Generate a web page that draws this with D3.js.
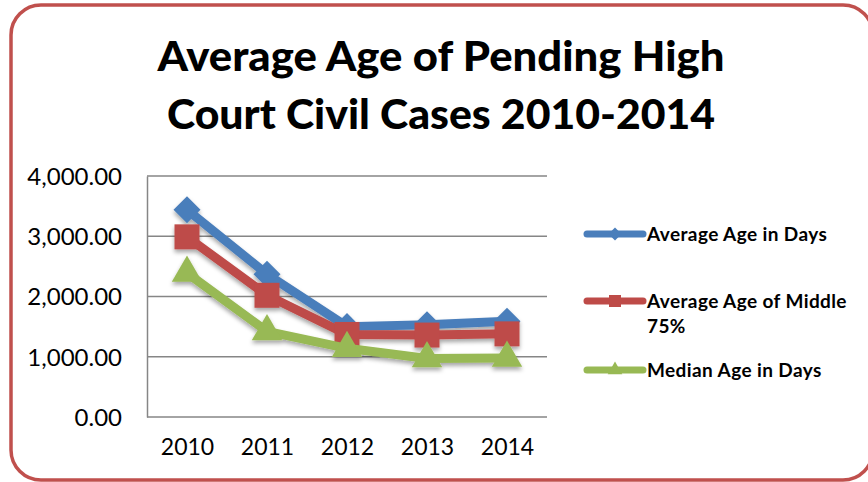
<!DOCTYPE html>
<html>
<head>
<meta charset="utf-8">
<script src="https://cdn.jsdelivr.net/npm/d3@7"></script>
<style>
  body { margin: 0; background: #fff; }
  svg { display: block; font-family: Lato, "Open Sans", sans-serif; }
</style>
</head>
<body>
<div class="chart"></div>
<script>
// data
var years = ["2010", "2011", "2012", "2013", "2014"];
var avgAge = [3440, 2370, 1500, 1530, 1590];
var avgMiddle = [2990, 2020, 1370, 1360, 1380];
var medianAge = [2390, 1420, 1140, 970, 980];
var yTicks = [0, 1000, 2000, 3000, 4000];
var titleLines = ["Average Age of Pending High", "Court Civil Cases 2010-2014"];

var series = [
  {name: "Average Age in Days", values: avgAge, color: "#4a7ebb", marker: "diamond"},
  {name: "Average Age of Middle|75%", values: avgMiddle, color: "#be4b48", marker: "square"},
  {name: "Median Age in Days", values: medianAge, color: "#98b954", marker: "triangle"}
];

var width = 868, height = 482;
var margin = {top: 176, right: 321, bottom: 65, left: 147};

var svg = d3.select(".chart")
    .append("svg")
    .attr("width", width)
    .attr("height", height);

var defs = svg.append("defs");
var shadow = defs.append("filter").attr("id", "shadow")
    .attr("x", "-20%").attr("y", "-20%").attr("width", "140%").attr("height", "160%");
shadow.append("feDropShadow")
    .attr("dx", 0).attr("dy", 3).attr("stdDeviation", 2)
    .attr("flood-color", "#000").attr("flood-opacity", 0.35);

// outer frame
svg.append("rect")
    .attr("x", 11).attr("y", 5)
    .attr("width", 862).attr("height", 475)
    .attr("rx", 30)
    .attr("fill", "#fff")
    .attr("stroke", "#c0504d")
    .attr("stroke-width", 3.5);

// title
svg.selectAll(".title")
    .data(titleLines)
    .enter().append("text")
    .attr("class", "title")
    .attr("x", 441)
    .attr("y", function(d, i) { return 71 + i * 58; })
    .attr("text-anchor", "middle")
    .attr("font-weight", "900")
    .attr("font-size", 41)
    .attr("textLength", function(d, i) { return i === 0 ? 567 : 548; })
    .attr("lengthAdjust", "spacingAndGlyphs")
    .text(function(d) { return d; });

var x = d3.scalePoint()
    .domain(years)
    .range([margin.left, width - margin.right])
    .padding(0.5);

var y = d3.scaleLinear()
    .domain([0, 4000])
    .range([height - margin.bottom, margin.top]);

// gridlines
svg.append("g")
    .selectAll("line")
    .data(yTicks)
    .enter().append("line")
    .attr("x1", margin.left)
    .attr("x2", width - margin.right)
    .attr("y1", function(d) { return y(d); })
    .attr("y2", function(d) { return y(d); })
    .attr("stroke", "#868686")
    .attr("stroke-width", 1.5);

// y axis
var yAxis = svg.append("g")
    .attr("transform", "translate(" + margin.left + ",0)")
    .call(d3.axisLeft(y).tickValues(yTicks).tickSize(0).tickPadding(25)
      .tickFormat(d3.format(",.2f")));
yAxis.select(".domain").attr("stroke", "#868686").attr("stroke-width", 1.5);
yAxis.selectAll("text")
    .attr("font-size", 24)
    .attr("fill", "#000")
    .attr("font-family", "Lato, sans-serif")
    .attr("dy", "0.35em");

// x axis
var xAxis = svg.append("g")
    .attr("transform", "translate(0," + (height - margin.bottom) + ")")
    .call(d3.axisBottom(x).tickSize(0).tickPadding(22));
xAxis.select(".domain").remove();
xAxis.selectAll("text")
    .attr("font-size", 23)
    .attr("fill", "#000")
    .attr("font-family", "Lato, sans-serif");

var line = d3.line()
    .x(function(d, i) { return x(years[i]); })
    .y(function(d) { return y(d); });

function markerPath(type, s) {
  if (type === "diamond") return d3.symbol(d3.symbolSquare, s * s * 0.5)();
  if (type === "square") return d3.symbol(d3.symbolSquare, s * s)();
  return d3.symbol(d3.symbolTriangle, s * s * 0.55)();
}

var plot = svg.append("g").attr("filter", "url(#shadow)");

series.forEach(function(s) {
  var g = plot.append("g");
  g.append("path")
      .datum(s.values)
      .attr("d", line)
      .attr("fill", "none")
      .attr("stroke", s.color)
      .attr("stroke-width", 9)
      .attr("stroke-linejoin", "round");
  g.selectAll("path.marker")
      .data(s.values)
      .enter().append("path")
      .attr("class", "marker")
      .attr("transform", function(d, i) {
        return "translate(" + x(years[i]) + "," + y(d) + ")" + (s.marker === "diamond" ? " rotate(45)" : "");
      })
      .attr("d", markerPath(s.marker, s.marker === "square" ? 25 : 27))
      .attr("fill", s.color);
});

// legend
var legendY = [234, 301, 370];
var legend = svg.append("g");
series.forEach(function(s, i) {
  var g = legend.append("g").attr("transform", "translate(0," + legendY[i] + ")");
  g.append("line")
      .attr("x1", 587).attr("x2", 643)
      .attr("stroke", s.color)
      .attr("stroke-width", 7)
      .attr("stroke-linecap", "round");
  g.append("path")
      .attr("transform", "translate(615,0)" + (s.marker === "diamond" ? " rotate(45)" : ""))
      .attr("d", markerPath(s.marker, s.marker === "square" ? 12 : 13))
      .attr("fill", s.color);
  var t = g.append("text")
      .attr("x", 647)
      .attr("y", 7)
      .attr("font-size", 19)
      .attr("font-weight", "bold")
      .attr("letter-spacing", 0.4)
      .attr("fill", "#000");
  s.name.split("|").forEach(function(part, j) {
    t.append("tspan").attr("x", 647).attr("dy", j === 0 ? 0 : 25).text(part);
  });
});
</script>
</body>
</html>
